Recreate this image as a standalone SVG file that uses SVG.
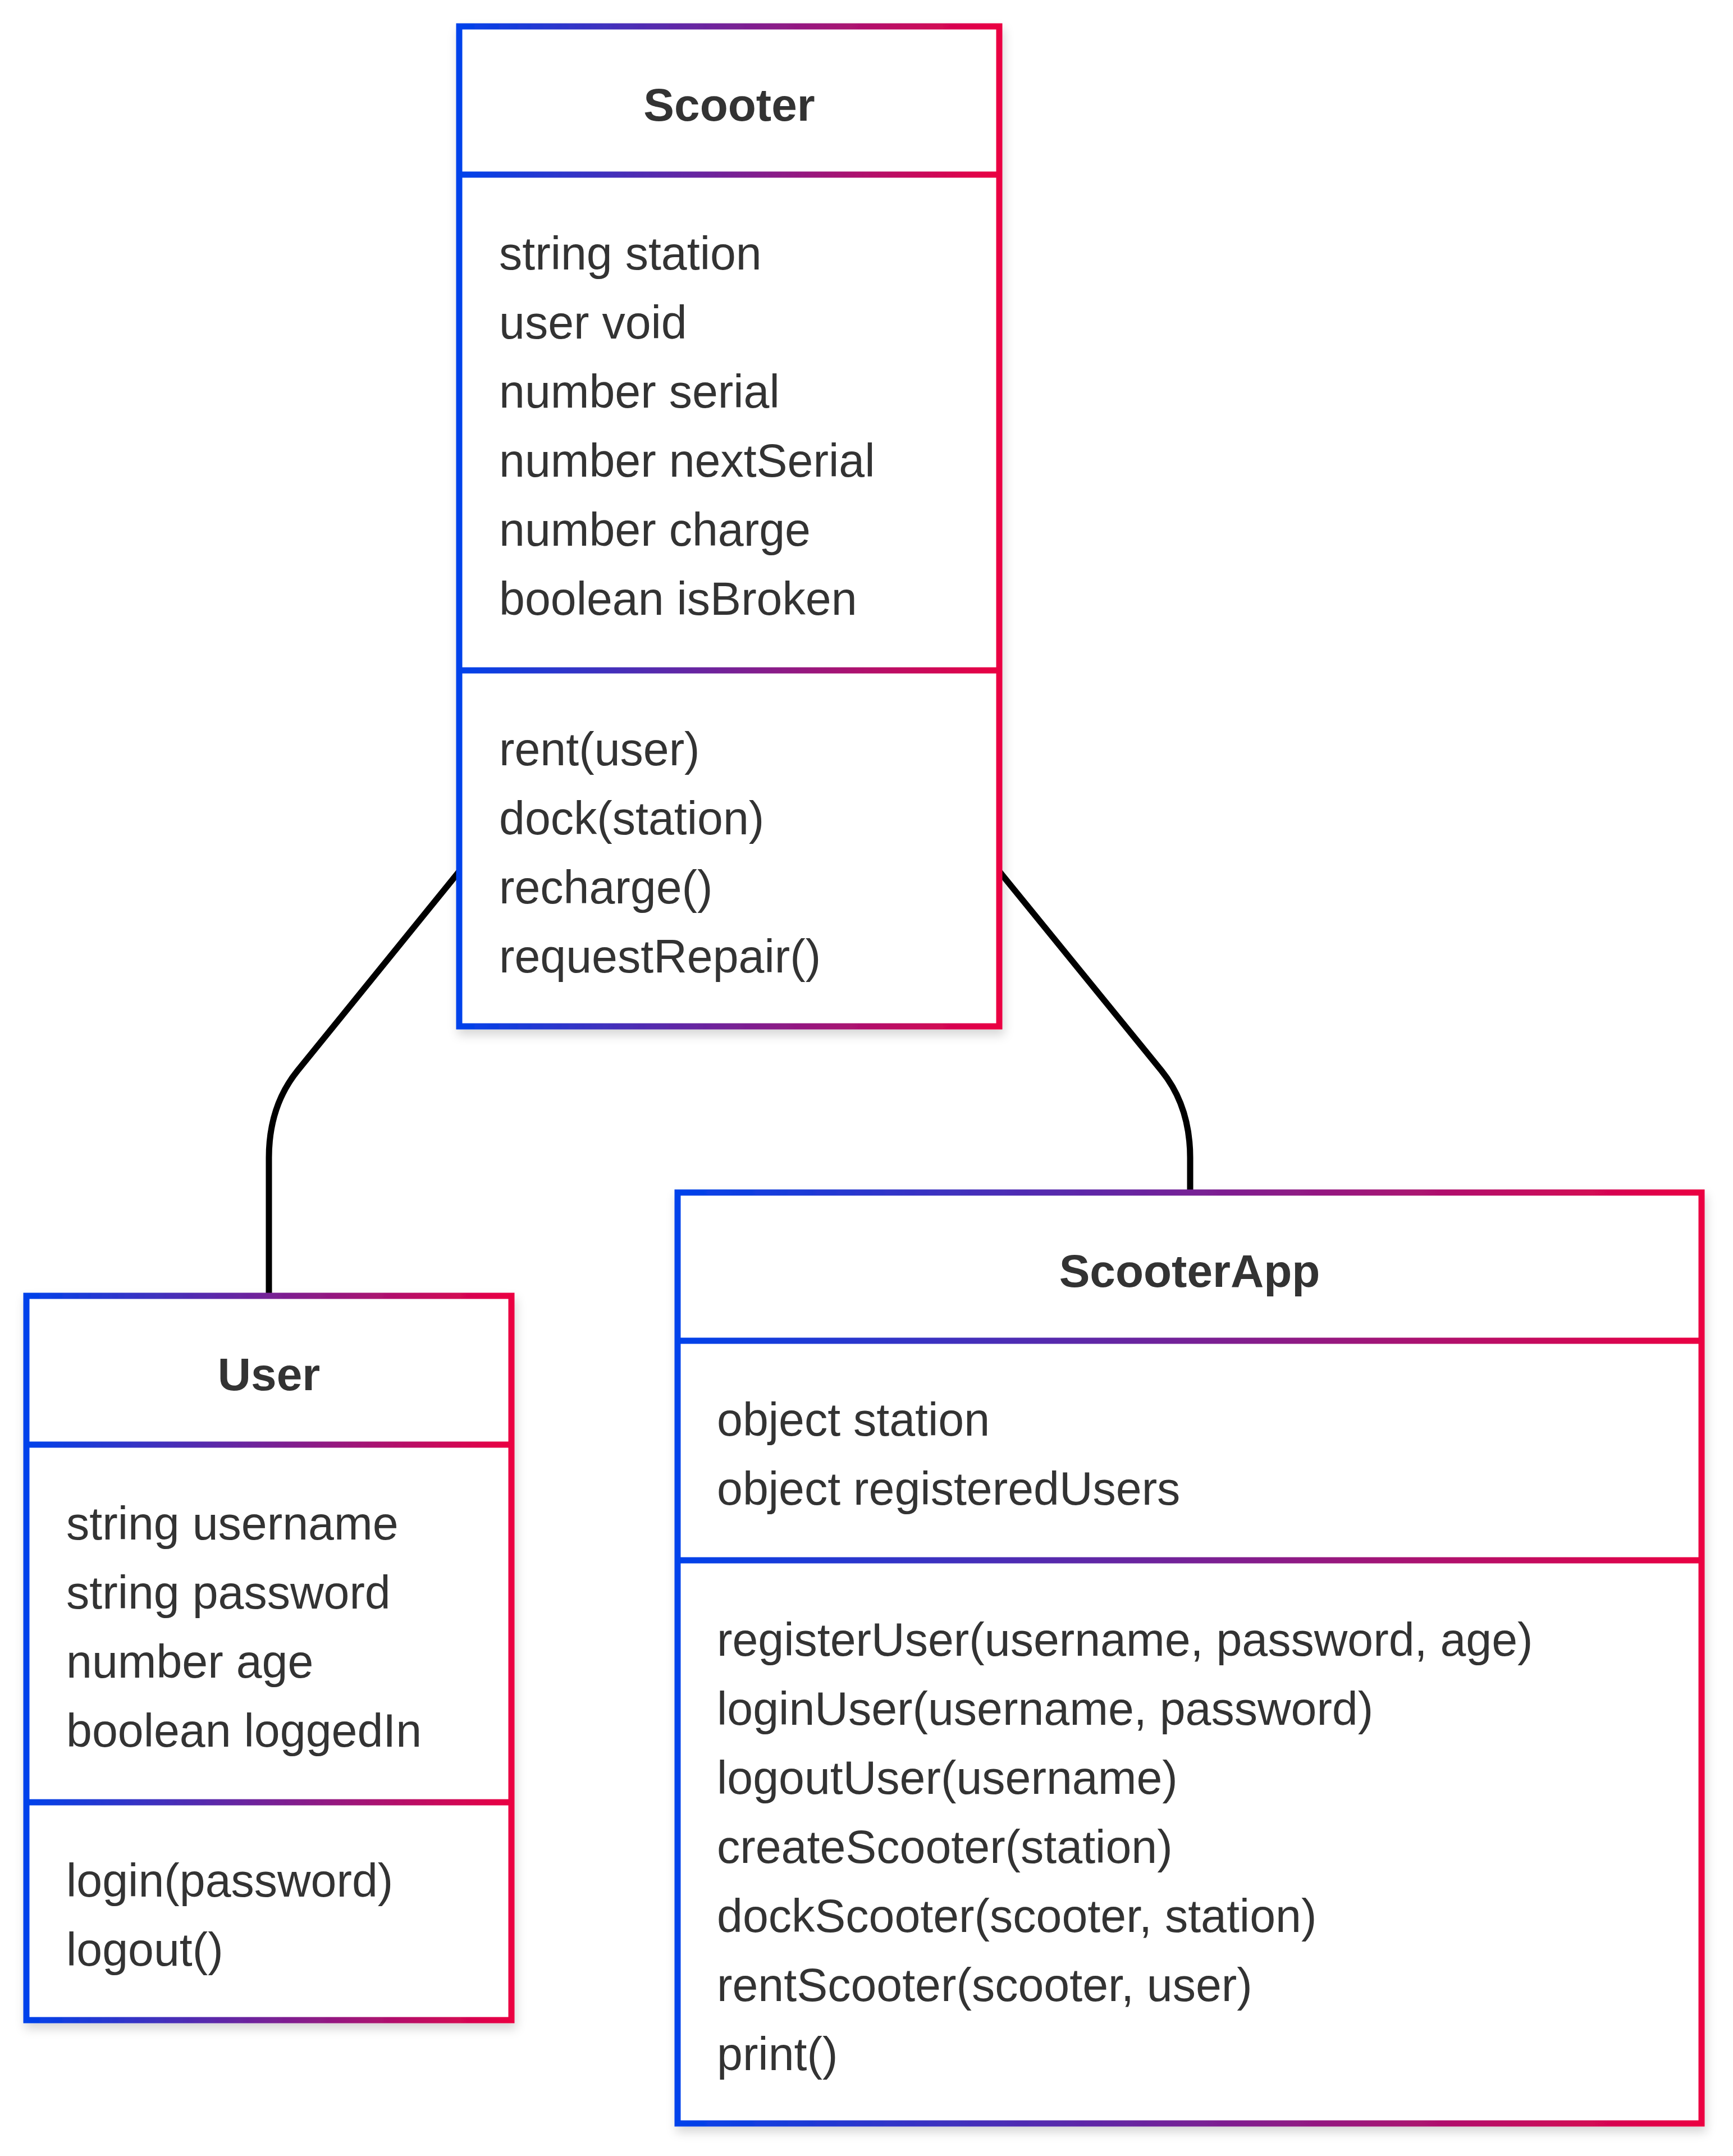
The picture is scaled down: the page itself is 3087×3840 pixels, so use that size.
<svg xmlns="http://www.w3.org/2000/svg" width="3087" height="3840" viewBox="0 0 3087 3840">
<defs>
<linearGradient id="g" x1="0" y1="0" x2="1" y2="0">
<stop offset="0" stop-color="#0042eb"/>
<stop offset="1" stop-color="#eb0042"/>
</linearGradient>
<filter id="sh" x="-10%" y="-10%" width="120%" height="120%">
<feDropShadow dx="3" dy="10" stdDeviation="9" flood-color="#000" flood-opacity="0.16"/>
</filter>
</defs>
<style>
.box{fill:#fff;stroke:url(#g);stroke-width:11;filter:url(#sh)}
.div{fill:url(#g)}
.t{font-family:"Liberation Sans",Arial,sans-serif;font-size:82.5px;fill:#333}
.h{font-family:"Liberation Sans",Arial,sans-serif;font-size:82px;font-weight:bold;fill:#333;text-anchor:middle}
.e{fill:none;stroke:#000;stroke-width:11}
</style>
<rect width="3087" height="3840" fill="#fff"/>
<g id="connectors">
<path class="e" d="M 818 1552 L 530 1907 Q 479 1970 479 2062 L 479 2303"/>
<path class="e" d="M 1780 1552 L 2069 1907 Q 2120 1970 2120 2062 L 2120 2119"/>
</g>
<g id="Scooter">
<rect class="box" x="818" y="47" width="962" height="1781"/>
<rect class="div" x="818" y="305.5" width="962" height="11"/>
<rect class="div" x="818" y="1188.5" width="962" height="11"/>
<text class="h" x="1299" y="215">Scooter</text>
<text class="t" x="889" y="480">string station</text>
<text class="t" x="889" y="603">user void</text>
<text class="t" x="889" y="726">number serial</text>
<text class="t" x="889" y="849">number nextSerial</text>
<text class="t" x="889" y="972">number charge</text>
<text class="t" x="889" y="1095">boolean isBroken</text>
<text class="t" x="889" y="1363">rent(user)</text>
<text class="t" x="889" y="1486">dock(station)</text>
<text class="t" x="889" y="1609">recharge()</text>
<text class="t" x="889" y="1732">requestRepair()</text>
</g>
<g id="User">
<rect class="box" x="47" y="2308" width="864" height="1290"/>
<rect class="div" x="47" y="2567.5" width="864" height="11"/>
<rect class="div" x="47" y="3204.5" width="864" height="11"/>
<text class="h" x="479" y="2476">User</text>
<text class="t" x="118" y="2742">string username</text>
<text class="t" x="118" y="2865">string password</text>
<text class="t" x="118" y="2988">number age</text>
<text class="t" x="118" y="3111">boolean loggedIn</text>
<text class="t" x="118" y="3378">login(password)</text>
<text class="t" x="118" y="3501">logout()</text>
</g>
<g id="ScooterApp">
<rect class="box" x="1207" y="2124" width="1824" height="1658"/>
<rect class="div" x="1207" y="2382.5" width="1824" height="11"/>
<rect class="div" x="1207" y="2773.5" width="1824" height="11"/>
<text class="h" x="2119" y="2292">ScooterApp</text>
<text class="t" x="1277" y="2557">object station</text>
<text class="t" x="1277" y="2680">object registeredUsers</text>
<text class="t" x="1277" y="2949">registerUser(username, password, age)</text>
<text class="t" x="1277" y="3072">loginUser(username, password)</text>
<text class="t" x="1277" y="3195">logoutUser(username)</text>
<text class="t" x="1277" y="3318">createScooter(station)</text>
<text class="t" x="1277" y="3441">dockScooter(scooter, station)</text>
<text class="t" x="1277" y="3564">rentScooter(scooter, user)</text>
<text class="t" x="1277" y="3687">print()</text>
</g>
</svg>
